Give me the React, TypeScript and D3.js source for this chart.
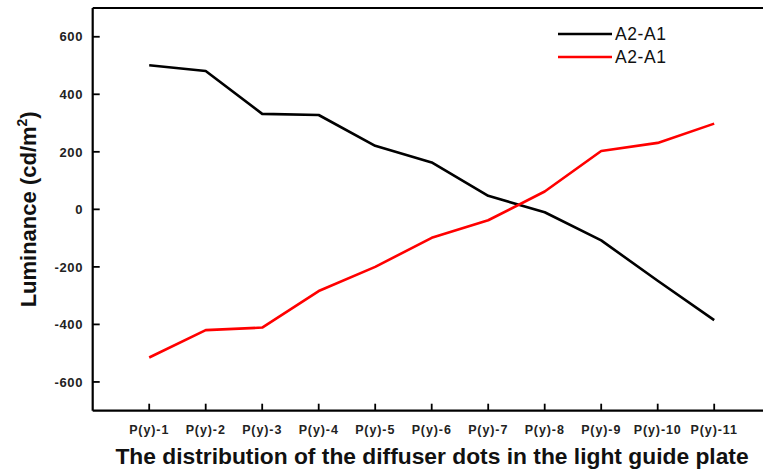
import React from "react";
import * as d3 from "d3";

const categories = ["P(y)-1", "P(y)-2", "P(y)-3", "P(y)-4", "P(y)-5", "P(y)-6", "P(y)-7", "P(y)-8", "P(y)-9", "P(y)-10", "P(y)-11"];
const blackSeries = [501, 481, 332, 328, 221, 163, 47, -10, -108, -248, -385];
const redSeries = [-515, -420, -411, -284, -200, -99, -38, 62, 203, 231, 298];
const yTicks = [600, 400, 200, 0, -200, -400, -600];
const legendLabels = ["A2-A1", "A2-A1"];

const W = 763;
const H = 470;
const FONT = "'Liberation Sans', Arial, sans-serif";

export default function App() {
  const left = 92.7;
  const top = 8;
  const bottom = 410.7;
  const step = 56.5;

  // x positions: category i sits at index i+1 on a linear scale starting at the left axis
  const x = d3.scaleLinear().domain([0, 1]).range([left, left + step]);
  const y = d3.scaleLinear().domain([-700, 700]).range([bottom, top]);

  const line = d3
    .line<number>()
    .x((_, i) => x(i + 1))
    .y((d) => y(d))
    .curve(d3.curveLinear);

  const series = [
    { values: blackSeries, color: "#000000" },
    { values: redSeries, color: "#ff0000" },
  ];

  return (
    <svg width={W} height={H} style={{ position: "absolute", left: 0, top: 0, background: "#fff" }}>
      <rect x={0} y={0} width={W} height={H} fill="#fff" />
      {/* frame: top, left, bottom */}
      <line x1={left} y1={top} x2={W} y2={top} stroke="#000" strokeWidth={2.2} />
      <line x1={left} y1={top} x2={left} y2={bottom} stroke="#000" strokeWidth={2.2} />
      <line x1={left} y1={bottom} x2={W} y2={bottom} stroke="#000" strokeWidth={2.2} />

      {/* y ticks */}
      {yTicks.map((t) => (
        <g key={t}>
          <line x1={left} x2={left + 7} y1={y(t)} y2={y(t)} stroke="#000" strokeWidth={1.8} />
          <text
            x={83}
            y={y(t)}
            dy="0.36em"
            textAnchor="end"
            fontFamily={FONT}
            fontWeight="bold"
            fontSize={13}
            letterSpacing={0.6}
            fill="#222"
          >
            {t}
          </text>
        </g>
      ))}

      {/* x ticks */}
      {categories.map((c, i) => (
        <g key={c}>
          <line x1={x(i + 1)} x2={x(i + 1)} y1={bottom} y2={bottom - 7} stroke="#000" strokeWidth={1.8} />
          <text
            x={x(i + 1)}
            y={434}
            textAnchor="middle"
            fontFamily={FONT}
            fontWeight="bold"
            fontSize={12.5}
            letterSpacing={0.9}
            fill="#222"
          >
            {c}
          </text>
        </g>
      ))}

      {/* series lines */}
      {series.map((s, k) => (
        <path key={k} d={line(s.values) ?? ""} fill="none" stroke={s.color} strokeWidth={2.6} strokeLinejoin="round" />
      ))}

      {/* legend */}
      {series.map((s, k) => (
        <g key={`lg${k}`}>
          <line x1={558} x2={612} y1={34 + k * 23} y2={34 + k * 23} stroke={s.color} strokeWidth={2.6} />
          <text x={615} y={34 + k * 23} dy="0.36em" fontFamily={FONT} fontSize={17.5} letterSpacing={0.6} fill="#111">
            {legendLabels[k]}
          </text>
        </g>
      ))}

      {/* axis titles */}
      <text
        transform={`translate(36, ${(top + bottom) / 2}) rotate(-90)`}
        textAnchor="middle"
        fontFamily={FONT}
        fontWeight="bold"
        fontSize={22}
        fill="#111"
      >
        Luminance (cd/m
        <tspan dy={-9} fontSize={14}>
          2
        </tspan>
        <tspan dy={9}>)</tspan>
      </text>
      <text x={432} y={464} textAnchor="middle" fontFamily={FONT} fontWeight="bold" fontSize={22.8} fill="#111">
        The distribution of the diffuser dots in the light guide plate
      </text>
    </svg>
  );
}
